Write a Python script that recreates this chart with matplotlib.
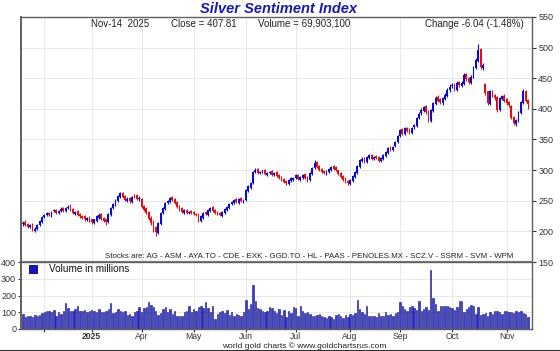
import numpy as np
import pandas as pd
import matplotlib

matplotlib.use('Agg')
import matplotlib.pyplot as plt
from matplotlib.lines import Line2D
from matplotlib.patches import Rectangle

plt.rcParams['font.family'] = ['Liberation Sans', 'DejaVu Sans']

# daily bars, Jan-21 2025 .. Nov-14 2025 (trading days)
opens = [212, 215, 212, 207, 211, 201, 204, 211, 215, 224,
         227, 230, 226, 233, 235, 230, 234, 237, 233, 238,
         241, 236, 229, 233, 228, 224, 224, 219, 223, 219,
         214, 218, 223, 228, 222, 219, 216, 227, 239, 244,
         250, 256, 263, 257, 250, 254, 249, 259, 259, 253,
         252, 241, 237, 231, 222, 216, 206, 198, 213, 231,
         237, 247, 249, 256, 252, 247, 241, 237, 231, 235,
         230, 233, 231, 228, 228, 217, 223, 231, 227, 233,
         239, 235, 231, 230, 226, 231, 235, 239, 245, 246,
         252, 247, 254, 249, 252, 266, 272, 280, 298, 301,
         295, 298, 300, 293, 296, 298, 292, 296, 291, 288,
         285, 282, 278, 283, 285, 288, 292, 285, 288, 293,
         288, 284, 294, 304, 313, 306, 301, 298, 294, 297,
         301, 306, 304, 299, 295, 290, 286, 282, 278, 283,
         289, 296, 305, 315, 319, 313, 320, 325, 318, 322,
         321, 315, 319, 324, 329, 337, 333, 339, 347, 356,
         366, 359, 369, 366, 361, 370, 373, 386, 393, 397,
         404, 396, 381, 397, 409, 419, 415, 410, 417, 422,
         432, 437, 440, 432, 443, 438, 441, 456, 450, 443,
         453, 467, 479, 497, 467, 440, 428, 409, 429, 423,
         419, 399, 417, 421, 415, 411, 405, 387, 376, 381,
         394, 410, 429, 414]
highs = [217, 218, 214, 212, 213, 207, 212, 219, 225, 229,
         232, 231, 234, 237, 237, 235, 239, 239, 239, 243,
         244, 238, 234, 235, 230, 227, 226, 224, 225, 221,
         221, 226, 230, 230, 224, 221, 230, 240, 247, 253,
         259, 265, 265, 259, 256, 256, 258, 261, 261, 257,
         254, 243, 239, 233, 225, 218, 208, 216, 232, 240,
         248, 252, 256, 258, 254, 249, 243, 239, 236, 237,
         234, 235, 233, 230, 230, 226, 232, 233, 236, 240,
         241, 237, 233, 232, 234, 238, 242, 246, 249, 253,
         254, 255, 256, 253, 269, 275, 281, 299, 304, 303,
         299, 301, 302, 297, 299, 300, 297, 298, 293, 290,
         287, 284, 286, 288, 289, 293, 294, 291, 294, 295,
         290, 297, 305, 316, 315, 308, 303, 300, 300, 304,
         307, 308, 306, 301, 297, 292, 288, 284, 286, 292,
         299, 308, 318, 321, 321, 323, 327, 327, 323, 324,
         323, 322, 327, 332, 338, 339, 340, 348, 358, 367,
         369, 370, 371, 368, 371, 376, 387, 395, 401, 405,
         406, 398, 400, 412, 421, 422, 417, 420, 426, 434,
         440, 442, 443, 445, 446, 445, 458, 459, 452, 455,
         470, 483, 506, 500, 475, 442, 430, 431, 431, 425,
         421, 420, 423, 424, 417, 413, 407, 389, 384, 397,
         413, 432, 431, 416]
lows = [209, 209, 205, 205, 200, 199, 203, 209, 214, 222,
        225, 225, 224, 231, 229, 228, 232, 232, 231, 236,
        233, 228, 227, 225, 222, 220, 217, 217, 216, 212,
        212, 216, 221, 219, 215, 211, 214, 225, 237, 242,
        248, 254, 254, 249, 248, 247, 247, 255, 251, 250,
        238, 233, 228, 219, 211, 199, 193, 196, 211, 229,
        235, 244, 247, 249, 244, 238, 234, 230, 229, 229,
        228, 228, 227, 225, 216, 215, 221, 226, 225, 231,
        232, 228, 227, 225, 224, 229, 233, 237, 243, 244,
        246, 245, 248, 247, 250, 264, 270, 278, 296, 294,
        293, 296, 292, 291, 294, 291, 290, 288, 285, 282,
        279, 276, 276, 281, 283, 286, 284, 283, 286, 285,
        281, 282, 292, 302, 303, 298, 295, 293, 292, 295,
        299, 301, 298, 292, 287, 283, 279, 276, 276, 281,
        287, 294, 303, 313, 312, 311, 318, 317, 316, 318,
        314, 313, 317, 322, 327, 331, 331, 337, 345, 354,
        357, 357, 362, 359, 359, 367, 371, 383, 390, 395,
        392, 379, 379, 395, 407, 411, 408, 407, 415, 420,
        427, 434, 430, 429, 436, 435, 439, 446, 440, 440,
        450, 465, 477, 465, 464, 423, 407, 406, 419, 415,
        395, 396, 414, 411, 407, 403, 383, 373, 372, 379,
        392, 408, 411, 400]
closes = [214, 211, 208, 210, 202, 204, 210, 216, 223, 226,
          229, 227, 232, 234, 231, 233, 236, 234, 237, 240,
          235, 230, 232, 227, 225, 223, 220, 222, 218, 215,
          219, 224, 227, 221, 218, 215, 228, 238, 245, 251,
          257, 262, 256, 251, 253, 250, 256, 258, 254, 254,
          240, 236, 230, 221, 214, 202, 199, 214, 230, 238,
          246, 250, 254, 251, 246, 240, 236, 232, 234, 231,
          232, 230, 229, 227, 218, 224, 230, 228, 234, 238,
          234, 230, 229, 227, 232, 236, 240, 244, 247, 251,
          248, 253, 250, 251, 267, 273, 279, 297, 300, 296,
          297, 299, 294, 295, 297, 293, 295, 290, 287, 284,
          281, 279, 284, 286, 287, 291, 286, 289, 292, 287,
          283, 295, 303, 312, 305, 300, 297, 295, 298, 302,
          305, 303, 300, 294, 289, 285, 281, 279, 284, 290,
          297, 306, 316, 318, 314, 321, 324, 319, 321, 320,
          316, 320, 325, 330, 336, 334, 338, 346, 355, 365,
          360, 368, 365, 362, 369, 374, 385, 392, 398, 402,
          395, 382, 398, 410, 418, 414, 411, 418, 423, 431,
          436, 439, 433, 442, 439, 442, 455, 449, 444, 452,
          468, 480, 496, 468, 472, 426, 410, 428, 422, 418,
          398, 418, 420, 414, 410, 406, 385, 377, 382, 395,
          411, 428, 414, 407.81]
volume = [90, 70, 75, 80, 72, 85, 80, 85, 95, 100,
          105, 110, 100, 112, 80, 100, 88, 105, 155, 125,
          110, 105, 120, 135, 105, 110, 115, 100, 108, 112,
          105, 100, 118, 102, 100, 108, 120, 155, 95, 100,
          120, 105, 100, 110, 85, 88, 75, 100, 110, 130,
          100, 125, 130, 160, 145, 130, 110, 85, 95, 120,
          130, 100, 118, 90, 105, 75, 80, 80, 100, 105,
          135, 100, 118, 110, 130, 140, 125, 160, 125, 100,
          135, 62, 90, 100, 108, 95, 115, 85, 100, 78,
          92, 85, 78, 100, 175, 120, 150, 260, 170, 125,
          118, 110, 100, 105, 130, 125, 110, 95, 120, 85,
          115, 70, 110, 95, 130, 125, 80, 140, 105, 95,
          100, 90, 75, 80, 85, 90, 80, 72, 65, 80,
          70, 60, 85, 90, 80, 65, 85, 70, 90, 85,
          95, 175, 120, 100, 90, 140, 80, 75, 80, 70,
          95, 75, 80, 100, 85, 90, 75, 95, 100, 160,
          135, 120, 110, 130, 140, 125, 115, 165, 110, 120,
          130, 115, 350, 185, 150, 110, 140, 135, 140, 140,
          130, 125, 115, 130, 170, 170, 100, 120, 130, 145,
          140, 90, 130, 85, 90, 95, 75, 100, 90, 105,
          110, 100, 90, 105, 110, 100, 100, 95, 105, 100,
          110, 95, 90, 70]

stocks = ['AG', 'ASM', 'AYA.TO', 'CDE', 'EXK', 'GGD.TO', 'HL', 'PAAS',
          'PENOLES.MX', 'SCZ.V', 'SSRM', 'SVM', 'WPM']

dates = pd.bdate_range('2025-01-21', '2025-11-14')
x = np.arange(len(dates))
o = np.array(opens, float)
c = np.array(closes, float)
up = c >= o
cols = np.where(up, '#0a0ad0', '#e01010')

# month starts -> grid / ticks
months = pd.Series(dates.month)
mstart = [i for i in range(1, len(dates)) if months[i] != months[i - 1]]
mlabels = []
for i in mstart:
    if dates[i].month == 2:
        mlabels.append('')
    elif dates[i].month == 3:
        mlabels.append('2025')
    else:
        mlabels.append(dates[i].strftime('%b'))

W, H = 560, 351
fig = plt.figure(figsize=(W / 100, H / 100), dpi=100)
ax = fig.add_axes([21 / W, 1 - 262 / H, 511 / W, 245 / H])
axv = fig.add_axes([21 / W, 1 - 329 / H, 511 / W, 67 / H], sharex=ax)

# price panel
ax.vlines(x, lows, highs, color=cols, lw=0.8, zorder=3)
ax.bar(x, np.abs(c - o) + 0.8, bottom=np.minimum(o, c) - 0.4, width=0.75,
       color=cols, lw=0, zorder=4)
ax.set_ylim(150, 550)
ax.set_xlim(-0.85, 214.7)
ax.yaxis.tick_right()
ax.set_yticks(range(150, 551, 50))
ax.tick_params(axis='y', labelsize=6.5, colors='#333333', length=3, pad=1.5)
ax.tick_params(axis='x', length=0, labelbottom=False)
ax.set_xticks(mstart)
ax.grid(True, color='#e8e8e8', lw=0.7)
ax.set_axisbelow(True)

# volume panel
axv.bar(x, volume, width=0.6, color='#3c3cd8', edgecolor='#101080', lw=0.4)
axv.set_ylim(0, 400)
axv.set_yticks(range(0, 401, 100))
axv.set_xticks(mstart)
axv.set_xticklabels(mlabels)
for t in axv.get_xticklabels():
    if t.get_text() == '2025':
        t.set_fontweight('bold')
axv.tick_params(axis='y', labelsize=6.5, colors='#333333', length=2, pad=1.5)
axv.tick_params(axis='x', labelsize=6.2, colors='#333333', length=2, pad=0.5)
axv.grid(True, color='#e8e8e8', lw=0.7)
axv.set_axisbelow(True)

for a in (ax, axv):
    for s in a.spines.values():
        s.set_color('#606060')
        s.set_linewidth(1.0)
    a.spines['left'].set_linewidth(1.4)
ax.spines['bottom'].set_linewidth(1.6)
ax.spines['bottom'].set_color('#808080')

# texts
fig.text(279 / W, 1 - 9 / H, 'Silver Sentiment Index', ha='center', va='center',
         fontsize=10.5, fontweight='bold', fontstyle='italic', color='#1a1aa8')
hy = 1 - 24 / H
fig.text(91 / W, hy, 'Nov-14  2025', fontsize=7, va='center', color='#222222')
fig.text(171 / W, hy, 'Close = 407.81', fontsize=7, va='center', color='#222222')
fig.text(258 / W, hy, 'Volume = 69,903,100', fontsize=7, va='center', color='#222222')
fig.text(425 / W, hy, 'Change -6.04 (-1.48%)', fontsize=7, va='center', color='#222222')
fig.text(105 / W, 1 - 256 / H, 'Stocks are: ' + ' - '.join(stocks), fontsize=5.7,
         va='center', color='#222222')
fig.add_artist(Rectangle((29 / W, 1 - 273 / H), 8 / W, 8 / H, transform=fig.transFigure,
                         facecolor='#1515c0', edgecolor='#000060', lw=0.6))
fig.text(49 / W, 1 - 269 / H, 'Volume in millions', fontsize=7.2, va='center',
         color='#111111')
fig.text(304 / W, 1 - 346.5 / H, 'world gold charts \u00a9 www.goldchartsrus.com',
         fontsize=6, ha='center', va='center', color='#222222')
fig.add_artist(Line2D([0, 1], [0.5 / H, 0.5 / H], color='#333333', lw=1.5))

fig.savefig('out.png', dpi=100)
plt.close(fig)
